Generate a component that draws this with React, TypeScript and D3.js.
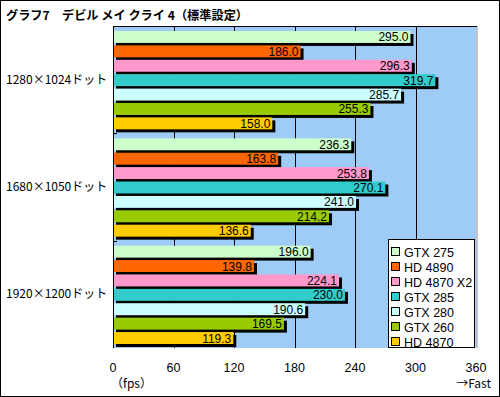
import * as d3 from "d3";

const title = "グラフ7　デビル メイ クライ 4（標準設定）";
const categories = ["1280×1024ドット", "1680×1050ドット", "1920×1200ドット"];
const seriesNames = ["GTX 275", "HD 4890", "HD 4870 X2", "GTX 285", "GTX 280", "GTX 260", "HD 4870"];
const seriesColors = ["#ccffcc", "#ff6600", "#ff99cc", "#33cccc", "#ccffff", "#99cc00", "#ffcc00"];
// values[category][series]
const values = [
  [295.0, 186.0, 296.3, 319.7, 285.7, 255.3, 158.0],
  [236.3, 163.8, 253.8, 270.1, 241.0, 214.2, 136.6],
  [196.0, 139.8, 224.1, 230.0, 190.6, 169.5, 119.3],
];
const xTicks = [0, 60, 120, 180, 240, 300, 360];

const W = 500;
const H = 397;
const plot = { left: 113, right: 476, top: 26, bottom: 348 };
const font = "'Noto Sans CJK JP', 'DejaVu Sans', sans-serif";
const latin = "'Liberation Sans', Arial, sans-serif";

export default function App() {
  const x = d3.scaleLinear().domain([0, 360]).range([plot.left, plot.right]);
  const yGroup = d3.scaleBand<number>()
    .domain(d3.range(categories.length))
    .range([plot.top, plot.bottom]);
  const yBar = d3.scaleBand<number>()
    .domain(d3.range(seriesNames.length))
    .range([5, yGroup.bandwidth() - 4])
    .paddingInner(0.17);

  const legendX = 388;
  const legendY = 239;
  const legendRow = 15;

  return (
    <svg width={W} height={H} style={{ position: "absolute", left: 0, top: 0 }} fontFamily={font}>
      <rect x={0.5} y={0.5} width={W - 1} height={H - 1} fill="#fff" stroke="#000" />
      <text x={6} y={20} fontSize={12.2} fontWeight="bold">{title}</text>

      {/* plot background */}
      <rect x={plot.left} y={plot.top} width={plot.right - plot.left} height={plot.bottom - plot.top} fill="#9fcbf7" />
      <line x1={plot.right + 1} x2={plot.right + 1} y1={plot.top} y2={plot.bottom} stroke="#888" />
      {xTicks.slice(1, -1).map(t => (
        <line key={t} x1={Math.round(x(t)) + 0.5} x2={Math.round(x(t)) + 0.5} y1={plot.top} y2={plot.bottom} stroke="#000" />
      ))}
      <line x1={plot.left} x2={plot.right + 1} y1={plot.top + 0.5} y2={plot.top + 0.5} stroke="#000" />
      <line x1={plot.left + 0.5} x2={plot.left + 0.5} y1={plot.top} y2={plot.bottom} stroke="#000" />
      {d3.range(1, categories.length).map(i => (
        <line key={i} x1={plot.left} x2={plot.left + 4} y1={Math.round(yGroup(i)!) + 0.5} y2={Math.round(yGroup(i)!) + 0.5} stroke="#000" />
      ))}

      {values.map((row, ci) => (
        <g key={ci} transform={`translate(0,${yGroup(ci)})`}>
          <text x={6} y={yGroup.bandwidth() / 2 + 4} fontSize={12}>{categories[ci]}</text>
          {row.map((v, si) => {
            const y0 = yBar(si)!;
            const h = yBar.bandwidth();
            const x1 = x(v);
            return (
              <g key={si}>
                <rect x={plot.left + 3} y={y0 + 3} width={x1 - plot.left} height={h} fill="#000" />
                <rect x={plot.left + 1} y={y0} width={x1 - plot.left - 1} height={h} fill={seriesColors[si]} />
                <text x={x1 - 2} y={y0 + h / 2 + 4.5} fontSize={12} fontFamily={latin} textAnchor="end">{v.toFixed(1)}</text>
              </g>
            );
          })}
        </g>
      ))}

      {/* legend */}
      <rect x={legendX + 0.5} y={legendY + 0.5} width={86} height={108} fill="#fff" stroke="#000" />
      {seriesNames.map((name, i) => (
        <g key={name} transform={`translate(${legendX + 3},${legendY + 8 + i * legendRow})`}>
          <rect x={0.5} y={0.5} width={8} height={8} fill={seriesColors[i]} stroke="#000" />
          <text x={13} y={9.5} fontSize={12.5} fontFamily={latin}>{name}</text>
        </g>
      ))}

      {/* x axis labels */}
      {xTicks.map(t => (
        <text key={t} x={x(t)} y={372} fontSize={12.5} fontFamily={latin} textAnchor="middle">{t}</text>
      ))}
      <text x={111} y={388} fontSize={12}>（fps）</text>
      <text x={491} y={388} fontSize={12} textAnchor="end">→Fast</text>
    </svg>
  );
}
